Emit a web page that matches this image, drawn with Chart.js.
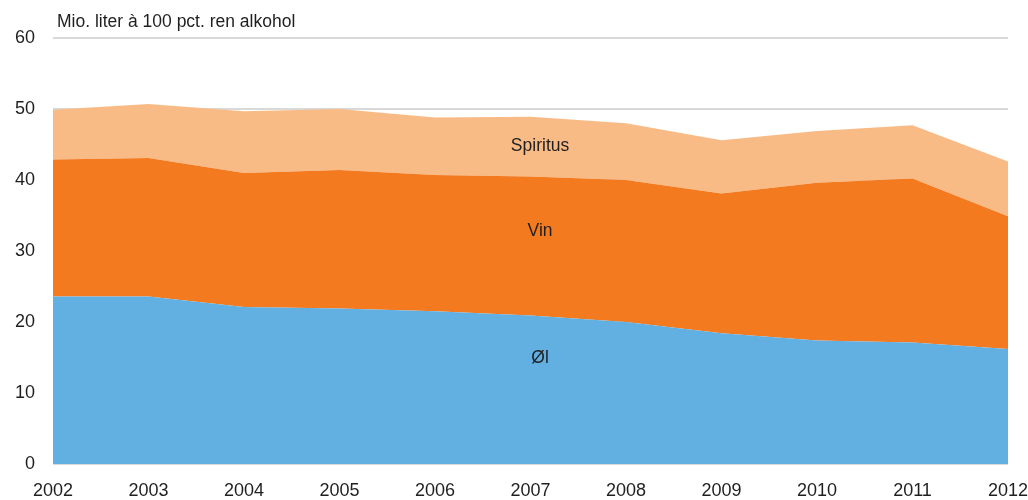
<!DOCTYPE html>
<html>
<head>
<meta charset="utf-8">
<script src="https://cdn.jsdelivr.net/npm/chart.js@4/dist/chart.umd.min.js"></script>
<style>
  html, body { margin: 0; padding: 0; background: #fff; }
  #wrap { width: 1028px; height: 500px; }
</style>
</head>
<body>
<div id="wrap"><canvas id="myChart" width="1028" height="500"></canvas></div>
<script>
const years = ['2002', '2003', '2004', '2005', '2006', '2007', '2008', '2009', '2010', '2011', '2012'];
const ol = [23.6, 23.6, 22.1, 21.9, 21.5, 20.9, 20.0, 18.4, 17.4, 17.1, 16.2];
const vin = [19.3, 19.5, 18.9, 19.5, 19.2, 19.6, 20.0, 19.7, 22.2, 23.1, 18.7];
const spiritus = [7.0, 7.6, 8.7, 8.6, 8.1, 8.4, 8.0, 7.5, 7.3, 7.5, 7.7];
const yTicks = [0, 10, 20, 30, 40, 50, 60];
const unitTitle = 'Mio. liter à 100 pct. ren alkohol';
// area labels: name, x index, y value
const areaNames = ['Øl', 'Vin', 'Spiritus'];
const areaLabelX = [5.1, 5.1, 5.1];
const areaLabelY = [14.9, 32.8, 44.8];

const FONT = "'Liberation Sans', Arial, sans-serif";
const TEXT = '#1f1f1f';

const textPlugin = {
    id: 'textPlugin',
    afterDatasetsDraw(chart) {
        const c = chart.ctx;
        const xs = chart.scales.x, ys = chart.scales.y;
        c.save();
        c.fillStyle = TEXT;
        c.font = '17.5px ' + FONT;
        c.textBaseline = 'middle';
        c.textAlign = 'center';
        for (let i = 0; i < areaNames.length; i++) {
            const px = xs.getPixelForDecimal(areaLabelX[i] / (years.length - 1));
            c.fillText(areaNames[i], px, ys.getPixelForValue(areaLabelY[i]));
        }
        c.textAlign = 'left';
        c.fillText(unitTitle, chart.chartArea.left + 4, 22);
        c.restore();
    }
};

const ctx = document.getElementById('myChart');

new Chart(ctx, {
    type: 'line',
    data: {
        labels: years,
        datasets: [
            { label: 'Øl', data: ol, backgroundColor: '#62AFE1', fill: 'origin' },
            { label: 'Vin', data: vin, backgroundColor: '#F47A20', fill: '-1' },
            { label: 'Spiritus', data: spiritus, backgroundColor: '#F9BB86', fill: '-1' }
        ]
    },
    options: {
        responsive: false,
        animation: false,
        layout: { padding: { top: 38, right: 20, left: 0, bottom: 0 } },
        elements: {
            point: { radius: 0 },
            line: { borderWidth: 0, tension: 0 }
        },
        plugins: {
            legend: { display: false },
            tooltip: { enabled: false }
        },
        scales: {
            x: {
                offset: false,
                grid: { display: false, drawTicks: false },
                border: { display: false },
                ticks: {
                    color: TEXT,
                    font: { family: FONT, size: 18 },
                    padding: 16,
                    maxRotation: 0,
                    autoSkip: false
                },
                afterFit(scale) {
                    scale.height = 36;
                    scale.paddingLeft = 0;
                    scale.paddingRight = 0;
                }
            },
            y: {
                stacked: true,
                min: 0,
                max: 60,
                afterBuildTicks(scale) { scale.ticks = yTicks.map(v => ({ value: v })); },
                grid: { color: '#d9d9d9', lineWidth: 2, drawTicks: false },
                border: { display: false },
                ticks: {
                    color: TEXT,
                    font: { family: FONT, size: 18 },
                    padding: 18
                },
                afterFit(scale) {
                    scale.width = 53;
                    scale.paddingTop = 0;
                    scale.paddingBottom = 0;
                }
            }
        }
    },
    plugins: [textPlugin]
});
</script>
</body>
</html>
